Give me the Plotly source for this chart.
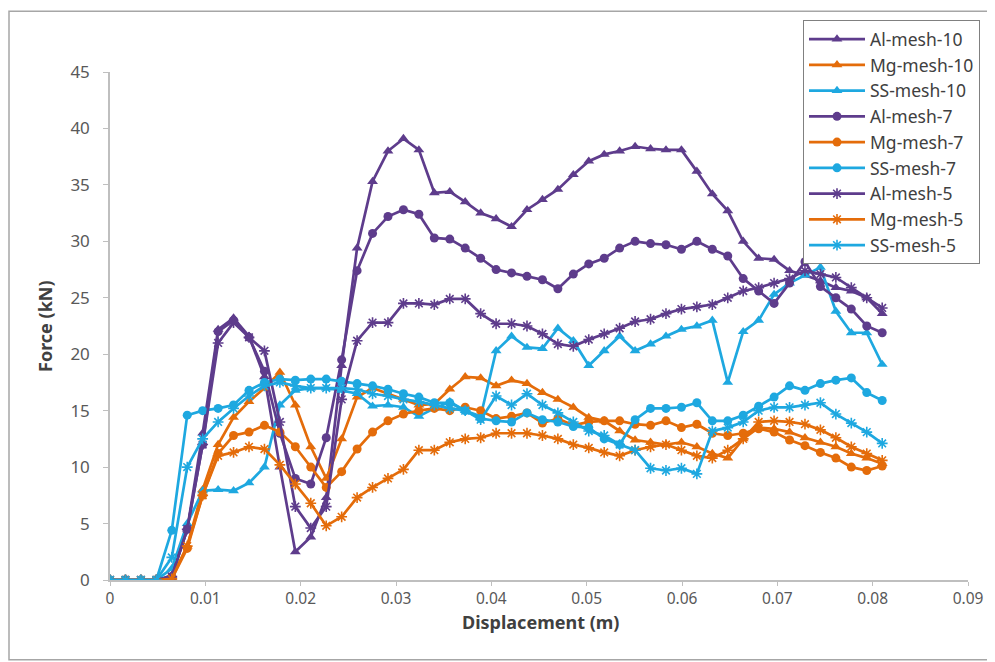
import plotly.graph_objects as go

displacement = [0, 0.00162, 0.00324, 0.00486, 0.00648, 0.0081, 0.00972, 0.01134, 0.01296, 0.01458,
                0.0162, 0.01782, 0.01944, 0.02106, 0.02268, 0.0243, 0.02592, 0.02754, 0.02916, 0.03078,
                0.0324, 0.03402, 0.03564, 0.03726, 0.03888, 0.0405, 0.04212, 0.04374, 0.04536, 0.04698,
                0.0486, 0.05022, 0.05184, 0.05346, 0.05508, 0.0567, 0.05832, 0.05994, 0.06156, 0.06318,
                0.0648, 0.06642, 0.06804, 0.06966, 0.07128, 0.0729, 0.07452, 0.07614, 0.07776, 0.07938, 0.081]

al_mesh_10 = [0, 0, 0, 0, 0.4, 4.5, 13, 22.2, 23.2, 21.6, 18, 10, 2.5, 3.8, 7.3, 19, 29.4, 35.3, 38, 39.1,
              38.1, 34.3, 34.4, 33.5, 32.5, 32, 31.3, 32.8, 33.7, 34.6, 35.9, 37.1, 37.7, 38, 38.4,
              38.2, 38.1, 38.1, 36.2, 34.2, 32.7, 30, 28.5, 28.4, 27.4, 27, 26.5, 25.9, 25.6, 25, 23.6]
mg_mesh_10 = [0, 0, 0, 0, 0.2, 3, 8, 12, 14.4, 15.8, 17, 18.4, 15.5, 11.8, 9, 12.5, 16.2, 17, 16.5, 16,
              15.5, 15.6, 16.9, 18, 17.9, 17.2, 17.7, 17.4, 16.6, 16, 15.3, 14.4, 14.1, 13.2, 12.4,
              12.2, 12, 12.2, 11.8, 11.2, 10.8, 12.5, 13.5, 13.4, 13.1, 12.6, 12.2, 11.8, 11.2, 10.8, 10.3]
ss_mesh_10 = [0, 0, 0, 0, 1, 5, 7.9, 8, 7.9, 8.6, 10, 15.5, 16.8, 17, 17, 16.8, 16.5, 15.4, 15.5, 15.3,
              14.5, 15.2, 15.8, 15, 14.5, 20.3, 21.6, 20.6, 20.5, 22.3, 21.2, 19, 20.3, 21.6, 20.3,
              20.9, 21.6, 22.2, 22.5, 23, 17.5, 22, 23, 25.3, 26.3, 27, 27.7, 23.8, 21.9, 21.9, 19.1]
al_mesh_7 = [0, 0, 0, 0, 0.3, 4.5, 12, 22, 23, 21.5, 18.5, 13, 9, 8.5, 12.6, 19.5, 27.4, 30.7, 32.2, 32.8,
             32.4, 30.3, 30.2, 29.4, 28.5, 27.5, 27.2, 26.9, 26.6, 25.8, 27.1, 28, 28.5, 29.4, 30,
             29.8, 29.7, 29.3, 30, 29.3, 28.7, 26.7, 25.6, 24.5, 26.3, 28.2, 26, 25, 24, 22.5, 21.9]
mg_mesh_7 = [0, 0, 0, 0, 0.1, 2.8, 7.5, 11.2, 12.8, 13.1, 13.7, 13.1, 11.8, 10, 8.2, 9.6, 11.6, 13.1, 14.1, 14.7,
             15, 15.2, 15, 15.3, 15, 14.3, 14.5, 14.8, 13.9, 14.3, 13.7, 14, 14.1, 14.1, 13.8,
             13.7, 14.1, 13.5, 13.8, 13, 12.8, 13, 13.4, 13.1, 12.4, 11.9, 11.3, 10.8, 10, 9.7, 10.1]
ss_mesh_7 = [0, 0, 0, 0, 4.4, 14.6, 15, 15.2, 15.5, 16.8, 17.5, 17.8, 17.7, 17.8, 17.8, 17.6, 17.4, 17.2, 16.9, 16.5,
             16.2, 15.7, 15.7, 15, 14.3, 14.1, 14, 14.8, 14.2, 14, 13.6, 13.5, 12.5, 12, 14.2,
             15.2, 15.2, 15.3, 15.7, 14.1, 14.1, 14.6, 15.4, 16.2, 17.2, 16.8, 17.4, 17.7, 17.9, 16.6, 15.9]
al_mesh_5 = [0, 0, 0, 0, 0.3, 4.5, 12, 21, 22.8, 21.5, 20.3, 14, 6.5, 4.6, 6.5, 16, 21.2, 22.8, 22.8, 24.5,
             24.5, 24.4, 24.9, 24.9, 23.6, 22.7, 22.7, 22.5, 21.8, 20.9, 20.7, 21.3, 21.8, 22.3, 22.9,
             23.1, 23.6, 24, 24.2, 24.4, 25, 25.6, 25.9, 26.3, 26.7, 27.4, 27.1, 26.8, 25.9, 25, 24.1]
mg_mesh_5 = [0, 0, 0, 0, 0.1, 3, 7.5, 11, 11.3, 11.8, 11.6, 10.2, 8.5, 6.8, 4.8, 5.6, 7.3, 8.2, 9, 9.8,
             11.5, 11.5, 12.2, 12.5, 12.6, 13, 13, 13, 12.8, 12.5, 12, 11.7, 11.3, 11, 11.5,
             11.8, 12, 11.5, 11, 10.8, 11.5, 12.5, 14, 14.1, 14, 13.8, 13.3, 12.6, 11.8, 11.2, 10.6]
ss_mesh_5 = [0, 0, 0, 0, 2, 10, 12.5, 14, 15.2, 16.3, 17.2, 17.5, 17.2, 17, 17, 17, 16.9, 16.5, 16.3, 16,
             15.8, 15.5, 15.2, 15, 14.2, 16.3, 15.5, 16.5, 15.5, 14.8, 14, 13.2, 12.8, 12, 11.5,
             9.9, 9.7, 9.9, 9.4, 13.2, 13.5, 14, 15, 15.3, 15.3, 15.5, 15.7, 14.7, 13.9, 13.1, 12.1]

x_ticks = [0, 0.01, 0.02, 0.03, 0.04, 0.05, 0.06, 0.07, 0.08, 0.09]
x_tick_labels = ["0", "0.01", "0.02", "0.03", "0.04", "0.05", "0.06", "0.07", "0.08", "0.09"]
y_ticks = [0, 5, 10, 15, 20, 25, 30, 35, 40, 45]
x_title = "Displacement (m)"
y_title = "Force (kN)"

PURPLE = "#5E3C8C"
ORANGE = "#E46C0A"
CYAN = "#1EA8E0"

series = [
    ("Al-mesh-10", al_mesh_10, PURPLE, "triangle-up"),
    ("Mg-mesh-10", mg_mesh_10, ORANGE, "triangle-up"),
    ("SS-mesh-10", ss_mesh_10, CYAN, "triangle-up"),
    ("Al-mesh-7", al_mesh_7, PURPLE, "circle"),
    ("Mg-mesh-7", mg_mesh_7, ORANGE, "circle"),
    ("SS-mesh-7", ss_mesh_7, CYAN, "circle"),
    ("Al-mesh-5", al_mesh_5, PURPLE, "asterisk-open"),
    ("Mg-mesh-5", mg_mesh_5, ORANGE, "asterisk-open"),
    ("SS-mesh-5", ss_mesh_5, CYAN, "asterisk-open"),
]

fig = go.Figure()
for name, vals, col, sym in series:
    if sym == "asterisk-open":
        marker = dict(symbol=sym, size=9, color=col, line=dict(color=col, width=1.6))
    elif sym == "circle":
        marker = dict(symbol=sym, size=9, color=col, line=dict(color=col, width=0))
    else:
        marker = dict(symbol=sym, size=9.5, color=col, line=dict(color=col, width=0))
    fig.add_trace(go.Scatter(x=displacement, y=vals, name=name, mode="lines+markers",
                             line=dict(color=col, width=2.7), marker=marker))

# page has an 8px body margin; figure coordinates = page coordinates - 8
W, H = 987, 654
L, T = 102, 62
R = W - 960
B = H - 572
pw, ph = W - L - R, H - T - B


def px_x(p):
    return (p - L) / pw


def px_y(p):
    return (H - B - p) / ph


fig.update_layout(
    width=W, height=H,
    margin=dict(l=L, r=R, t=T, b=B),
    paper_bgcolor="white", plot_bgcolor="white",
    font=dict(family="Noto Sans, Open Sans, sans-serif", size=17, color="#595959"),
    showlegend=True,
    legend=dict(
        x=px_x(795), y=px_y(10), xanchor="left", yanchor="top",
        bordercolor="#808080", borderwidth=1, bgcolor="white",
        font=dict(size=17.5, color="#404040"),
        itemwidth=56, tracegroupgap=0,
    ),
    xaxis=dict(
        range=[0, 0.09], tickvals=x_ticks, ticktext=x_tick_labels,
        showgrid=False, zeroline=False, showline=True, linecolor="#BFBFBF", linewidth=1.5,
        ticks="outside", ticklen=4, tickcolor="#BFBFBF", ticklabelstandoff=0,
        tickfont=dict(size=15.5),
    ),
    yaxis=dict(
        range=[0, 45], tickvals=y_ticks,
        showgrid=False, zeroline=False, showline=True, linecolor="#BFBFBF", linewidth=1.5,
        ticks="outside", ticklen=5, tickcolor="#BFBFBF", ticklabelstandoff=10,
    ),
    annotations=[
        dict(text="<b>" + x_title + "</b>", xref="paper", yref="paper",
             x=px_x(532), y=px_y(614), xanchor="center", yanchor="middle", showarrow=False,
             font=dict(size=18, color="#404040")),
        dict(text="<b>" + y_title + "</b>", xref="paper", yref="paper",
             x=px_x(37), y=px_y(317), xanchor="center", yanchor="middle", showarrow=False,
             textangle=-90, font=dict(size=18, color="#404040")),
    ],
    shapes=[dict(type="rect", xref="paper", yref="paper",
                 x0=px_x(1), x1=px_x(985), y0=px_y(652), y1=px_y(1),
                 line=dict(color="#A6A6A6", width=1.5), fillcolor="rgba(0,0,0,0)", layer="below")],
)

fig.write_html("out.html")
